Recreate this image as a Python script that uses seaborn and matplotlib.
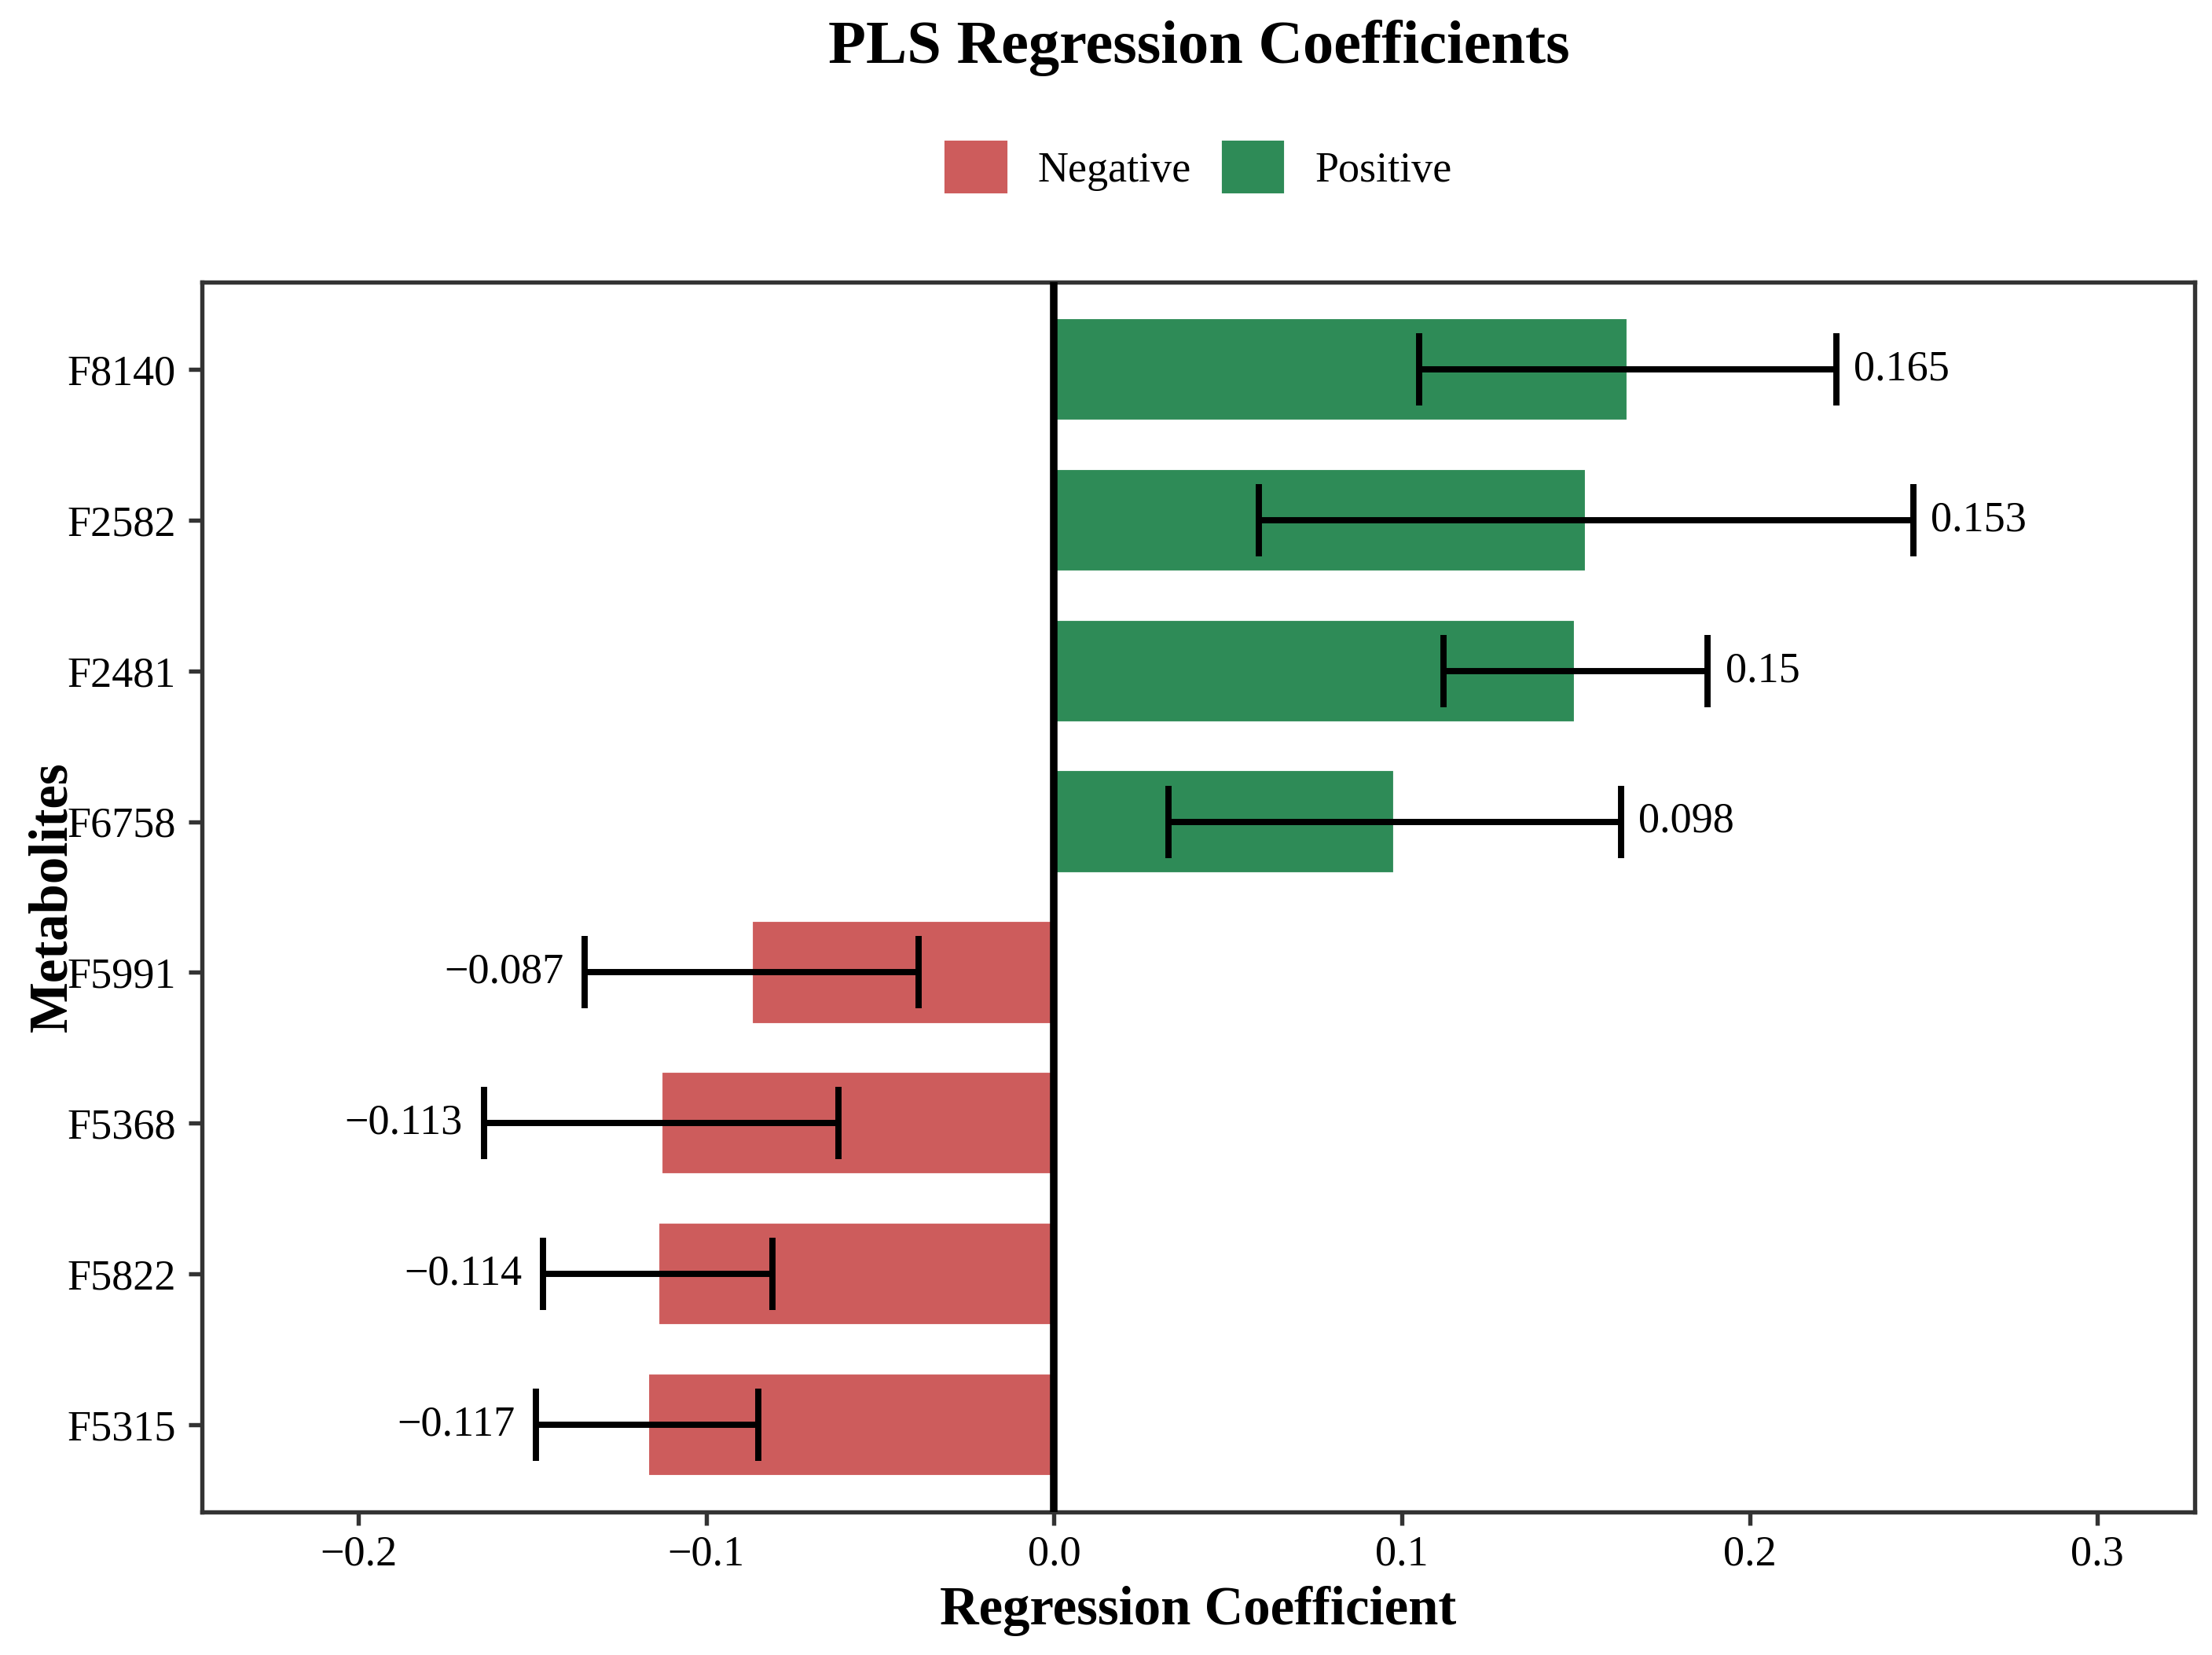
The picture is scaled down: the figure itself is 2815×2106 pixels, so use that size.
import pandas as pd
import matplotlib
matplotlib.use("Agg")
import matplotlib.pyplot as plt
import matplotlib.patches as mpatches
import seaborn as sns

# values
metabolites = ["F8140", "F2582", "F2481", "F6758", "F5991", "F5368", "F5822", "F5315"]
coefficients = [0.165, 0.153, 0.150, 0.098, -0.087, -0.113, -0.114, -0.117]
errors = [0.060, 0.094, 0.038, 0.065, 0.048, 0.051, 0.033, 0.032]
labels = ["0.165", "0.153", "0.15", "0.098", "\u22120.087", "\u22120.113", "\u22120.114", "\u22120.117"]
x_ticks = [-0.2, -0.1, 0.0, 0.1, 0.2, 0.3]

neg_color = "#CD5C5C"
pos_color = "#2E8B57"

df = pd.DataFrame({"Metabolite": metabolites, "Coefficient": coefficients, "Error": errors})
df["Direction"] = ["Positive" if c > 0 else "Negative" for c in coefficients]

sns.set_style("white")
plt.rcParams["font.family"] = ["Liberation Serif", "DejaVu Serif"]
plt.rcParams["text.color"] = "black"
plt.rcParams["axes.labelcolor"] = "black"
plt.rcParams["xtick.color"] = "black"
plt.rcParams["ytick.color"] = "black"

fig = plt.figure(figsize=(2815 / 300, 2106 / 300), dpi=300)
ax = fig.add_axes([0.0913, 0.0864, 0.9009, 0.7431])

sns.barplot(data=df, y="Metabolite", x="Coefficient", hue="Direction",
            order=metabolites, hue_order=["Negative", "Positive"],
            palette={"Negative": neg_color, "Positive": pos_color},
            orient="h", dodge=False, width=0.69, legend=False, ax=ax,
            saturation=1)

ypos = range(len(metabolites))
ax.errorbar(df["Coefficient"], list(ypos), xerr=df["Error"], fmt="none",
            ecolor="black", elinewidth=1.9, capsize=11, capthick=1.9, zorder=4)

# value labels at end of error bars
for i, (c, e, lab) in enumerate(zip(coefficients, errors, labels)):
    if c > 0:
        ax.text(c + e + 0.005, i, lab, ha="left", va="center", fontsize=13)
    else:
        ax.text(c - e - 0.006, i, lab, ha="right", va="center", fontsize=13)

ax.axvline(0, color="black", linewidth=2.3, zorder=5)

ax.set_xlim(-0.245, 0.328)
ax.set_ylim(len(metabolites) - 1 + 0.58, -0.58)
ax.set_xticks(x_ticks)
ax.set_xticklabels([f"{t:.1f}".replace("-", "\u2212") for t in x_ticks])
ax.tick_params(axis="both", labelsize=13, length=4, width=1.3, color="#333333",
               bottom=True, left=True, pad=3)
ax.tick_params(axis="y", pad=4)

for sp in ax.spines.values():
    sp.set_linewidth(1.3)
    sp.set_color("#333333")

ax.set_xlabel("Regression Coefficient", fontsize=16.5, fontweight="bold", labelpad=3.5)
ax.set_ylabel("Metabolites", fontsize=16.5, fontweight="bold")
ax.yaxis.set_label_coords(-0.062, 0.5)

fig.suptitle("PLS Regression Coefficients", fontsize=18.8, fontweight="bold",
             x=0.542, y=0.971, va="center")

handles = [mpatches.Patch(color=neg_color, label="Negative"),
           mpatches.Patch(color=pos_color, label="Positive")]
fig.legend(handles=handles, loc="center", bbox_to_anchor=(0.542, 0.899), ncol=2,
           frameon=False, fontsize=13, handlelength=1.4, handleheight=1.4,
           handletextpad=0.75, columnspacing=0.75)

fig.savefig("out.png", dpi=300)
